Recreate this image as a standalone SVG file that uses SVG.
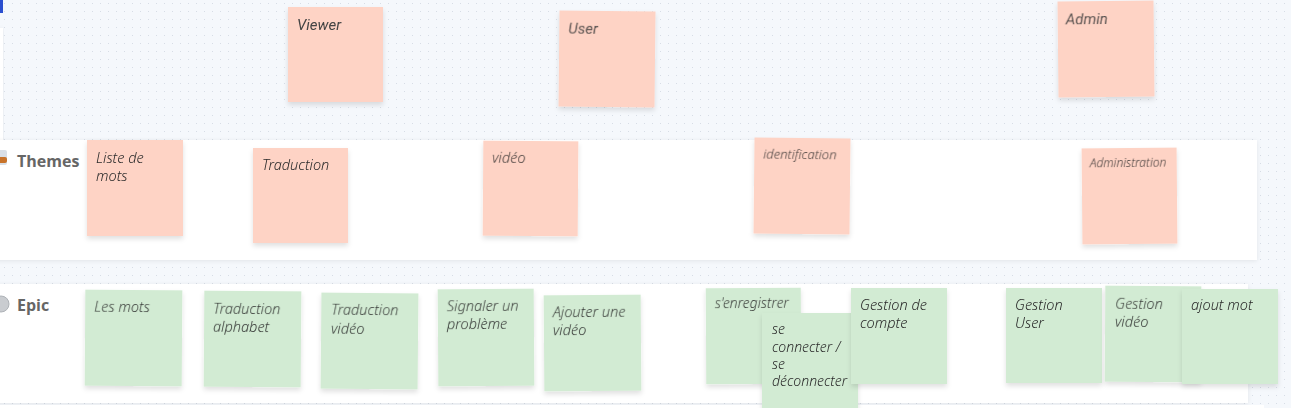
<svg xmlns="http://www.w3.org/2000/svg" width="1291" height="408" viewBox="0 0 1291 408">
<defs>
<pattern id="dots" width="8" height="8" patternUnits="userSpaceOnUse" x="4" y="3">
<rect x="0" y="0" width="1" height="1" fill="#d7dde6"/>
</pattern>
<filter id="sh" x="-20%" y="-20%" width="140%" height="150%">
<feDropShadow dx="0" dy="3" stdDeviation="2.5" flood-color="#000" flood-opacity="0.12"/>
</filter>
<filter id="psh" x="-5%" y="-20%" width="110%" height="140%">
<feDropShadow dx="0" dy="1" stdDeviation="2" flood-color="#000" flood-opacity="0.08"/>
</filter>
<style>
.sal{fill:#fed3c5}
.grn{fill:#d2ebd3}
.t{font-family:"Noto Sans",sans-serif;font-style:italic;font-weight:300;font-size:14.5px;fill:#2a2a2a}
.r{font-family:Roboto,"Noto Sans",sans-serif;font-style:italic;font-weight:400;font-size:15px;fill:#444}
.lbl{font-family:"Open Sans","Noto Sans",sans-serif;font-weight:700;font-size:16px;fill:#666}
.panel{fill:#ffffff}
</style>
</defs>
<rect width="1291" height="408" fill="#f5f8fc"/>
<rect width="1291" height="408" fill="url(#dots)"/>
<rect x="0" y="0" width="3" height="13" fill="#2b4fcf"/>
<rect x="-10" y="28" width="13" height="188" class="panel" filter="url(#psh)"/>
<g id="rows">
<rect x="-10" y="140" width="1267" height="120" class="panel" filter="url(#psh)"/>
<rect x="-10" y="284" width="1258" height="119" class="panel" filter="url(#psh)"/>
<rect x="-10" y="405" width="1274" height="10" class="panel"/>
</g>
<g id="label-themes">
<rect x="-4" y="150" width="11" height="15" rx="2" fill="#d9dfe6"/>
<rect x="-3" y="157" width="10" height="6" rx="2" fill="#c8732a"/>
<text class="lbl" x="17" y="167">Themes</text>
</g>
<g id="label-epic">
<circle cx="1" cy="304" r="8" fill="#c9ccd0"/>
<circle cx="1" cy="304" r="8" fill="none" stroke="#aeb2b7" stroke-width="1"/>
<text class="lbl" x="17" y="311">Epic</text>
</g>
<g id="viewer" filter="url(#sh)"><rect class="sal" x="288" y="7" width="95" height="95"/><text class="r" x="297" y="30">Viewer</text></g>
<g id="user" filter="url(#sh)" transform="rotate(0.6 607 59)"><rect class="sal" x="559" y="11" width="96" height="96"/><text class="r" x="568" y="34">User</text></g>
<g id="admin" filter="url(#sh)" transform="rotate(-0.6 1106 49)"><rect class="sal" x="1058" y="1" width="96" height="96"/><text class="r" x="1066" y="24">Admin</text></g>
<g id="liste-de-mots" filter="url(#sh)"><rect class="sal" x="87" y="140" width="96" height="96"/><text class="t" x="96" y="163">Liste de</text><text class="t" x="96" y="181">mots</text></g>
<g id="traduction" filter="url(#sh)"><rect class="sal" x="253" y="148" width="95" height="95"/><text class="t" x="262" y="170">Traduction</text></g>
<g id="video" filter="url(#sh)" transform="rotate(0.4 531 189)"><rect class="sal" x="483" y="141" width="95" height="95"/><text class="t" x="492" y="163">vidéo</text></g>
<g id="identification" filter="url(#sh)" transform="rotate(0.6 802 186)"><rect class="sal" x="754" y="138" width="96" height="96"/><text class="t" x="763" y="159" style="font-size:13px">identification</text></g>
<g id="administration" filter="url(#sh)" transform="rotate(-0.5 1129 196)"><rect class="sal" x="1082" y="148" width="95" height="96"/><text class="t" x="1090" y="167" style="font-size:12px">Administration</text></g>
<g id="les-mots" filter="url(#sh)" transform="rotate(0.4 133 338)"><rect class="grn" x="85" y="290" width="97" height="96"/><text class="t" x="94" y="312">Les mots</text></g>
<g id="traduction-alphabet" filter="url(#sh)" transform="rotate(0.4 252 339)"><rect class="grn" x="204" y="291" width="97" height="96"/><text class="t" x="213" y="314">Traduction</text><text class="t" x="213" y="332">alphabet</text></g>
<g id="traduction-video" filter="url(#sh)" transform="rotate(0.5 369 341)"><rect class="grn" x="321" y="293" width="97" height="96"/><text class="t" x="331" y="315">Traduction</text><text class="t" x="331" y="334">vidéo</text></g>
<g id="signaler" filter="url(#sh)" transform="rotate(-0.4 486 337)"><rect class="grn" x="438" y="289" width="96" height="97"/><text class="t" x="447" y="311">Signaler un</text><text class="t" x="447" y="329">problème</text></g>
<g id="ajouter-video" filter="url(#sh)" transform="rotate(-0.4 592 343)"><rect class="grn" x="544" y="295" width="97" height="96"/><text class="t" x="553" y="317">Ajouter une</text><text class="t" x="553" y="335">vidéo</text></g>
<g id="senregistrer" filter="url(#sh)" transform="rotate(-0.3 753 336)"><rect class="grn" x="706" y="288" width="95" height="96"/><text class="t" x="715" y="308" style="font-size:14px">s'enregistrer</text></g>
<g id="se-connecter" filter="url(#sh)"><rect class="grn" x="762" y="313" width="96" height="100"/><text class="t" x="772" y="334" style="font-size:14px">se</text><text class="t" x="772" y="352" style="font-size:14px">connecter /</text><text class="t" x="772" y="369" style="font-size:14px">se</text><text class="t" x="772" y="386" style="font-size:14px">déconnecter</text></g>
<g id="gestion-compte" filter="url(#sh)"><rect class="grn" x="851" y="288" width="96" height="96"/><text class="t" x="860" y="310">Gestion de</text><text class="t" x="860" y="328">compte</text></g>
<g id="gestion-user" filter="url(#sh)"><rect class="grn" x="1006" y="288" width="96" height="95"/><text class="t" x="1015" y="310">Gestion</text><text class="t" x="1015" y="328">User</text></g>
<g id="gestion-video" filter="url(#sh)" transform="rotate(0.4 1153 334)"><rect class="grn" x="1105" y="286" width="96" height="96"/><text class="t" x="1115" y="309">Gestion</text><text class="t" x="1115" y="327">vidéo</text></g>
<g id="ajout-mot" filter="url(#sh)"><rect class="grn" x="1182" y="289" width="96" height="95"/><text class="t" x="1191" y="310">ajout mot</text></g>
<g id="connectors"/>
</svg>
